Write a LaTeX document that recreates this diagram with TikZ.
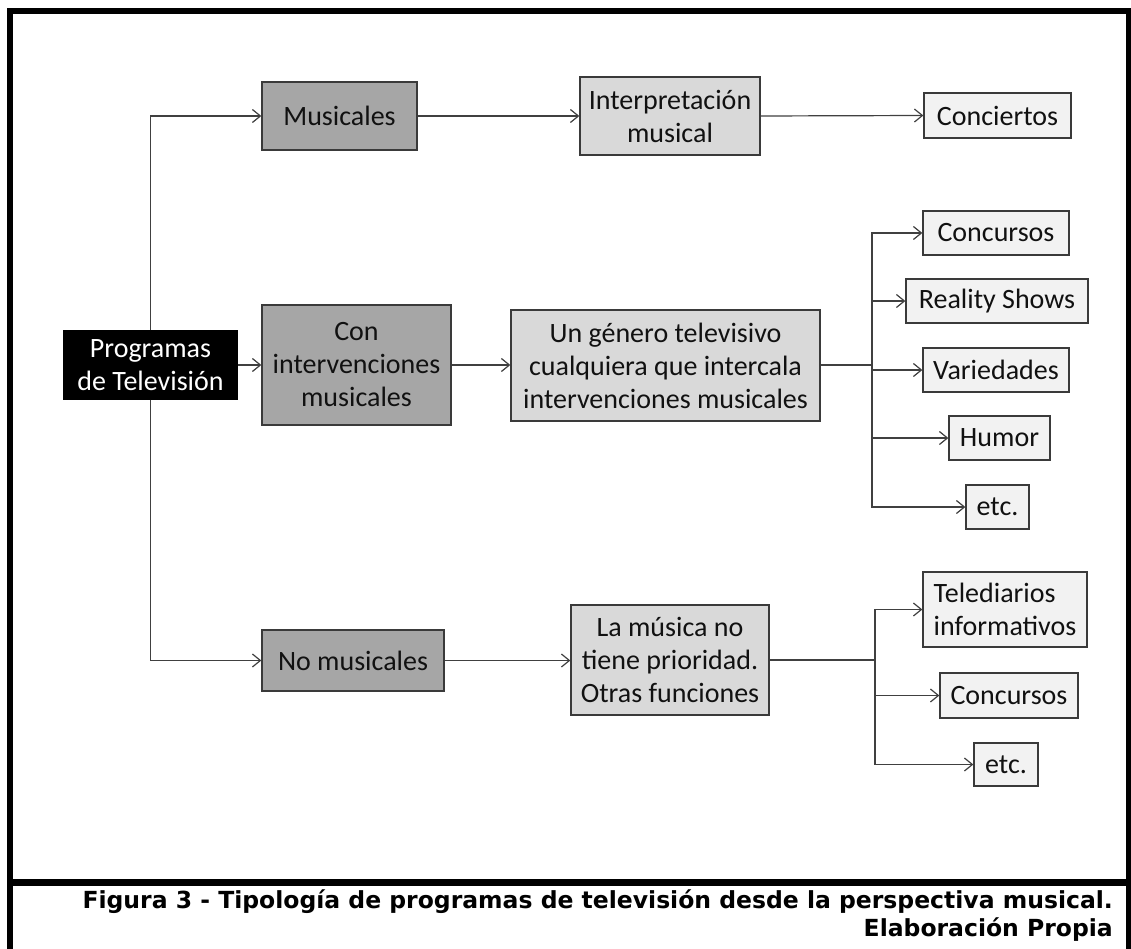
\documentclass[tikz,border=0pt]{standalone}
\usepackage{fontspec}
\setmainfont{Carlito}
\newfontfamily\capfont{DejaVu Sans}
\usetikzlibrary{arrows.meta}
\definecolor{dkfill}{HTML}{A6A6A6}
\definecolor{mdfill}{HTML}{D9D9D9}
\definecolor{ltfill}{HTML}{F2F2F2}
\definecolor{edge}{HTML}{3A3A3A}
\definecolor{lnc}{HTML}{404040}
\definecolor{txt}{HTML}{111111}
\begin{document}
\begin{tikzpicture}[x=1pt,y=-1pt,
  box/.style={draw=edge, line width=1.3pt, inner sep=0pt, align=center,
    font=\fontsize{28}{33}\selectfont, text=txt},
  dkbox/.style={box, fill=dkfill},
  mdbox/.style={box, fill=mdfill},
  ltbox/.style={box, fill=ltfill},
  rootbox/.style={box, fill=black, draw=black, text=white},
  conn/.style={draw=lnc, line width=1.2pt},
  arr/.style={conn, -{Straight Barb[length=8pt,width=13pt]}},
  capt/.style={anchor=base east, inner sep=0pt, text=black,
    font=\capfont\fontsize{23.5}{28}\selectfont\bfseries}
]
\useasboundingbox (0,0) rectangle (1131,949);
\fill[white] (0,0) rectangle (1131,949);
% frame
\fill[black] (7,8) rectangle (13,949);
\fill[black] (7,8) rectangle (1131,14);
\fill[black] (1126,8) rectangle (1131,949);
\fill[black] (7,879) rectangle (1131,886);

% nodes
\node[rootbox, minimum width=173pt, minimum height=68pt] (prog) at (150.5,365) {Programas\\de Televisión};
\node[dkbox, minimum width=155pt, minimum height=68pt] (mus) at (339.5,116) {Musicales};
\node[dkbox, minimum width=189pt, minimum height=120pt] (con) at (356.5,365) {Con\\intervenciones\\musicales};
\node[dkbox, minimum width=182pt, minimum height=61pt] (nomus) at (353,660.5) {No musicales};
\node[mdbox, minimum width=180pt, minimum height=78pt] (interp) at (670,116) {Interpretación\\musical};
\node[mdbox, minimum width=309pt, minimum height=111pt] (genero) at (665.5,365.5) {Un género televisivo\\cualquiera que intercala\\intervenciones musicales};
\node[mdbox, minimum width=198pt, minimum height=110pt] (lamus) at (670,660) {La música no\\tiene prioridad.\\Otras funciones};
\node[ltbox, minimum width=147pt, minimum height=45pt] (conc) at (997.5,115.5) {Conciertos};
\node[ltbox, minimum width=146pt, minimum height=44pt] (concu1) at (996,233) {Concursos};
\node[ltbox, minimum width=182pt, minimum height=44pt] (reality) at (997,301) {Reality Shows};
\node[ltbox, minimum width=146pt, minimum height=44pt] (varied) at (996,370) {Variedades};
\node[ltbox, minimum width=101pt, minimum height=44pt] (humor) at (999.5,438) {Humor};
\node[ltbox, minimum width=63pt, minimum height=44pt] (etc1) at (997.5,507) {etc.};
\node[ltbox, minimum width=164pt, minimum height=75pt, align=left] (teled) at (1005,609.5) {Telediarios\\informativos};
\node[ltbox, minimum width=138pt, minimum height=45pt] (concu2) at (1009,695.5) {Concursos};
\node[ltbox, minimum width=64pt, minimum height=43pt] (etc2) at (1006,764.5) {etc.};

% branch points
\coordinate (b1) at (872,365);
\coordinate (b2) at (875,660);

% connectors
\draw[arr] (prog.north) |- (mus.west);
\draw[arr] (prog.east) -- (con.west);
\draw[arr] (prog.south) |- (nomus.west);
\draw[arr] (mus.east) -- (interp.west);
\draw[arr] (interp.east) -- (conc.west);
\draw[arr] (con.east) -- (con.east -| genero.west);
\draw[arr] (nomus.east) -- (nomus.east -| lamus.west);
\draw[conn] (genero.east |- b1) -- (b1);
\draw[arr] (b1) |- (concu1.west);
\draw[arr] (b1) |- (reality.west);
\draw[arr] (b1) |- (varied.west);
\draw[arr] (b1) |- (humor.west);
\draw[arr] (b1) |- (etc1.west);
\draw[conn] (lamus.east) -- (b2);
\draw[arr] (b2) |- (teled.west);
\draw[arr] (b2) |- (concu2.west);
\draw[arr] (b2) |- (etc2.west);

% caption
\node[capt] (cap1) at (1113,908) {Figura 3 - Tipología de programas de televisión desde la perspectiva musical.};
\node[capt] (cap2) at (1113,936) {Elaboración Propia};
\end{tikzpicture}
\end{document}
